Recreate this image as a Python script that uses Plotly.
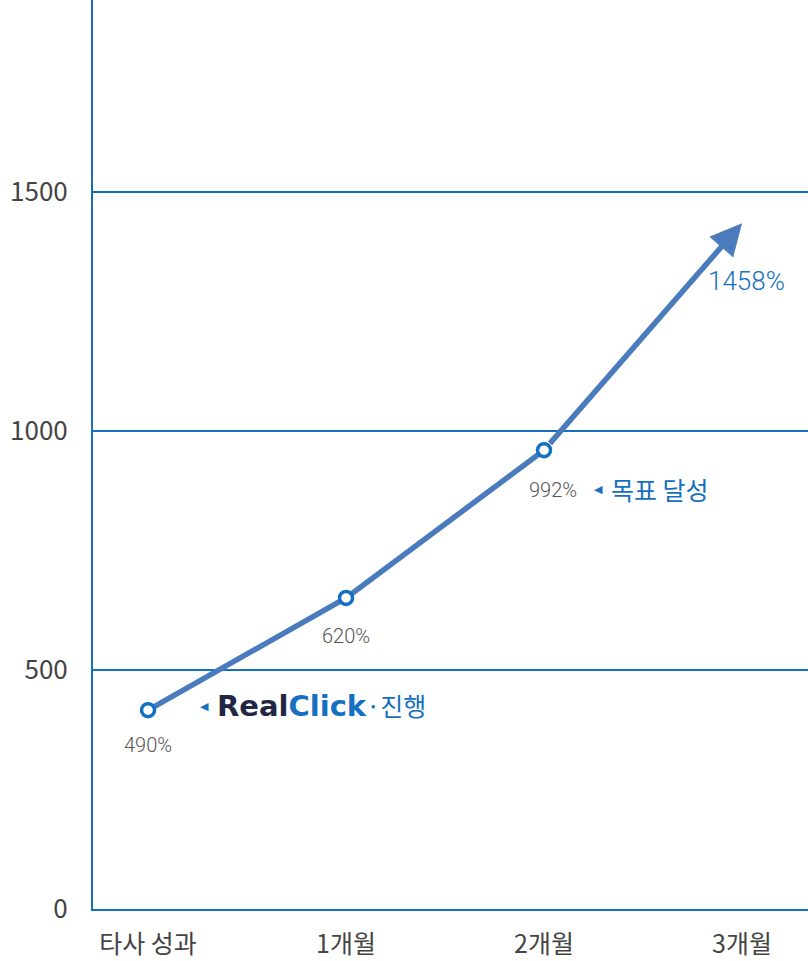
import plotly.graph_objects as go

categories = ['타사 성과', '1개월', '2개월', '3개월']
growth = [416, 651, 960, 1435]          # plotted positions
labels = ['490%', '620%', '992%', '1458%']
y_ticks = [0, 500, 1000, 1500]

x_pos = list(range(len(categories)))

BLUE = '#1570c0'
LINE = '#4a7bbd'
GREY = '#555555'
FONT = 'Noto Sans CJK KR'

fig = go.Figure()

# line through the first three points, the last leg is the arrow
fig.add_trace(go.Scatter(x=x_pos[:3], y=growth[:3], mode='lines+markers',
                         line=dict(color=LINE, width=5.5),
                         marker=dict(size=13, color='white',
                                     line=dict(color=BLUE, width=3.5)),
                         showlegend=False, hoverinfo='skip'))

fig.add_annotation(x=x_pos[3], y=growth[3], ax=x_pos[2], ay=growth[2],
                   xref='x', yref='y', axref='x', ayref='y',
                   text='', showarrow=True, arrowhead=2, arrowsize=1.15,
                   arrowwidth=5.5, arrowcolor=LINE, startstandoff=7, standoff=0)

# value labels
shifts = [(0, -35), (0, -38), (9, -40)]
for i in range(3):
    fig.add_annotation(x=x_pos[i], y=growth[i], text=labels[i], showarrow=False,
                       xshift=shifts[i][0], yshift=shifts[i][1],
                       font=dict(family='Roboto', size=20, color=GREY, weight=300))
fig.add_annotation(x=x_pos[3], y=growth[3], text=labels[3], showarrow=False,
                   xshift=4, yshift=-58,
                   font=dict(family='Roboto', size=26, color=BLUE, weight=300))

# callouts
fig.add_annotation(x=x_pos[0], y=growth[0], text='◀', showarrow=False,
                   xanchor='left', xshift=50, yshift=4,
                   font=dict(family='DejaVu Sans', size=11, color=BLUE))
fig.add_annotation(x=x_pos[0], y=growth[0],
                   text='<span style="font-family:DejaVu Sans;font-weight:bold;font-size:29px;color:#1f2745">Real</span>'
                        '<span style="font-family:DejaVu Sans;font-weight:bold;font-size:29px;color:#1570c0">Click</span>'
                        '·진행',
                   showarrow=False, xanchor='left', xshift=67, yshift=5,
                   font=dict(family=FONT, size=25, color=BLUE))
fig.add_annotation(x=x_pos[2], y=growth[2], text='◀', showarrow=False,
                   xanchor='left', xshift=48, yshift=-39,
                   font=dict(family='DejaVu Sans', size=11, color=BLUE))
fig.add_annotation(x=x_pos[2], y=growth[2], text='목표 달성', showarrow=False,
                   xanchor='left', xshift=65, yshift=-39,
                   font=dict(family=FONT, size=25, color=BLUE))

fig.update_xaxes(range=[-0.278, 3.333], tickvals=x_pos, ticktext=categories,
                 showline=True, linecolor=BLUE, linewidth=2, showgrid=False,
                 zeroline=False, ticks='', ticklabelstandoff=12,
                 tickfont=dict(family=FONT, size=25, color='#444444'))
fig.update_yaxes(range=[0, 1902], tickvals=y_ticks,
                 showline=True, linecolor=BLUE, linewidth=2,
                 showgrid=True, gridcolor=BLUE, gridwidth=1.5, zeroline=False,
                 ticks='', ticklabelstandoff=18,
                 tickfont=dict(family=FONT, size=26, color='#444444'))

fig.update_layout(width=808, height=961, plot_bgcolor='white', paper_bgcolor='white',
                  margin=dict(l=93, r=0, t=0, b=52))

fig.write_html('out.html', config={'displayModeBar': False},
               post_script="document.body.style.margin='0';")
